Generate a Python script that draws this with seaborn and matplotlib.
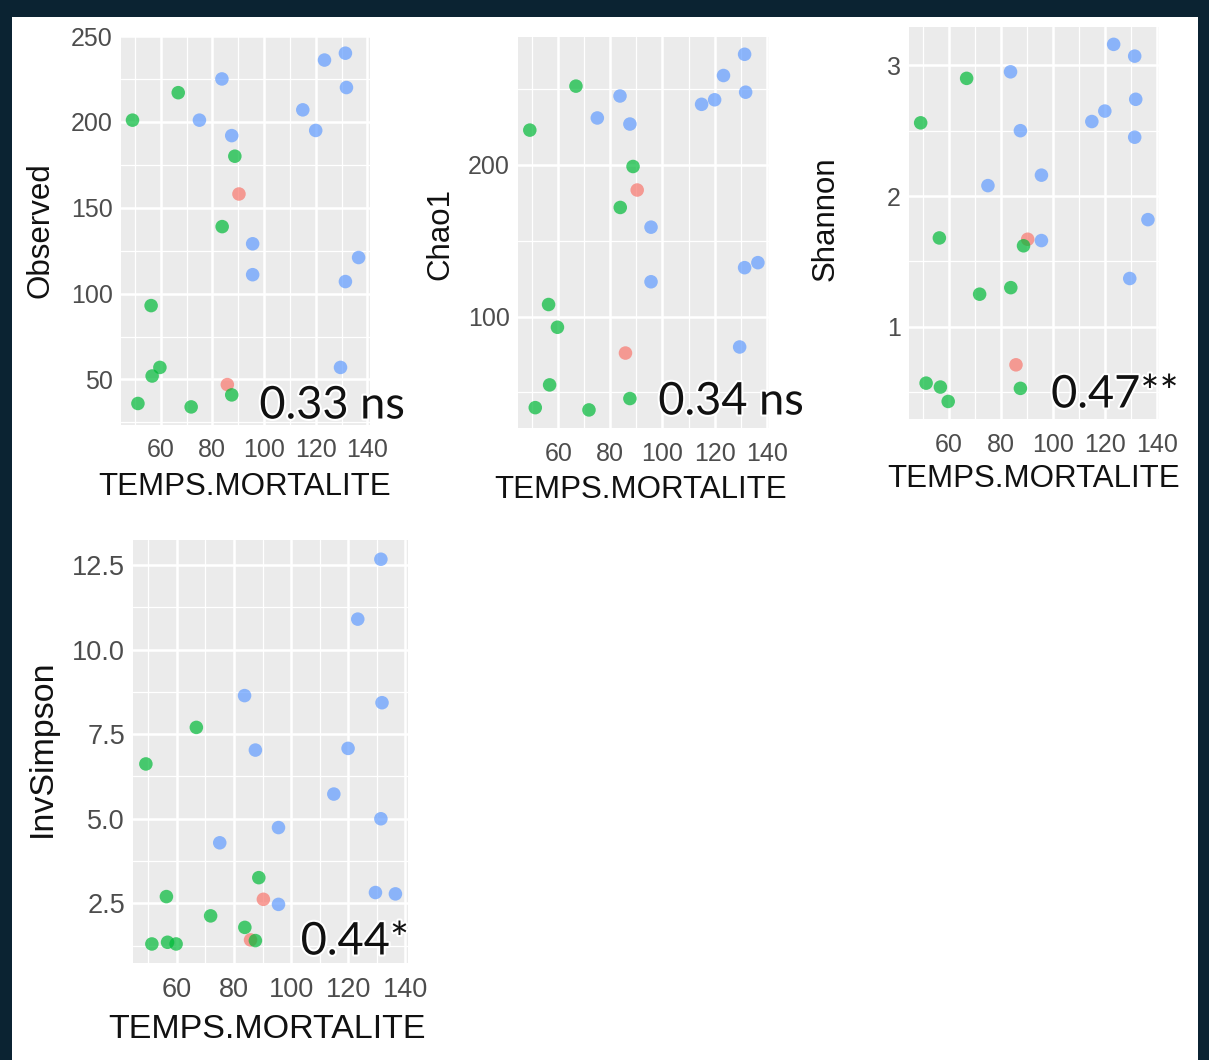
import matplotlib
matplotlib.use("Agg")
import matplotlib.pyplot as plt
import matplotlib.patheffects as pe
from matplotlib.patches import Rectangle
from matplotlib.ticker import FixedLocator, MultipleLocator
import pandas as pd
import seaborn as sns

W, H = 1209, 1060

# one row per sample: red group first, then green, then blue
groupe = ["R"] * 2 + ["G"] * 10 + ["B"] * 13
temps = [90.3, 85.8,
         49.1, 66.8, 88.7, 83.8, 56.3, 59.7, 56.7, 51.2, 71.8, 87.5,
         83.7, 75.0, 87.5, 115.0, 120.0, 123.4, 131.5, 131.9, 95.6, 95.6, 136.6, 131.5, 129.6]
observed = [158, 47,
            201, 217, 180, 139, 93, 57, 52, 36, 34, 41,
            225, 201, 192, 207, 195, 236, 240, 220, 129, 111, 121, 107, 57]
chao1 = [183.5, 76,
         223, 252, 199, 172, 108, 93, 55, 40, 38.5, 46,
         245.5, 231, 227, 240, 243, 259, 273, 248, 159, 123, 135.6, 132.3, 80]
shannon = [1.67, 0.71,
           2.56, 2.90, 1.62, 1.30, 1.68, 0.43, 0.54, 0.57, 1.25, 0.53,
           2.95, 2.08, 2.50, 2.57, 2.65, 3.16, 3.07, 2.74, 2.16, 1.66, 1.82, 2.45, 1.37]
invsimpson = [2.62, 1.42,
              6.62, 7.70, 3.26, 1.79, 2.70, 1.30, 1.35, 1.30, 2.13, 1.40,
              8.64, 4.29, 7.03, 5.73, 7.08, 10.9, 12.67, 8.43, 4.74, 2.47, 2.78, 5.0, 2.82]

x_ticks = [60, 80, 100, 120, 140]
obs_ticks = [50, 100, 150, 200, 250]
chao_ticks = [100, 200]
shannon_ticks = [1, 2, 3]
invs_ticks = [2.5, 5.0, 7.5, 10.0, 12.5]
invs_tick_labels = ["2.5", "5.0", "7.5", "10.0", "12.5"]
stats = ["0.33 ns", "0.34 ns", "0.47**", "0.44*"]

df = pd.DataFrame({"TEMPS.MORTALITE": temps, "groupe": groupe,
                   "Observed": observed, "Chao1": chao1,
                   "Shannon": shannon, "InvSimpson": invsimpson})
palette = {"R": "#F8766D", "G": "#00BA38", "B": "#619CFF"}

sns.set_theme(style="darkgrid", rc={"axes.facecolor": "#EBEBEB", "grid.color": "white"})
plt.rcParams["font.family"] = ["Liberation Sans", "DejaVu Sans"]

fig = plt.figure(figsize=(W / 100, H / 100), dpi=100, facecolor="#0b2332")
fig.patches.append(Rectangle((12 / W, 0), (1198 - 12) / W, 1 - 17 / H,
                             transform=fig.transFigure, facecolor="white",
                             edgecolor="none", zorder=-5))


def expand(v):
    lo, hi = min(v), max(v)
    d = (hi - lo) * 0.05
    return lo - d, hi + d


# pixel boxes (left, top, right, bottom) and text placement for each panel
panels = [
    dict(col="Observed", box=(121.2, 35.5, 369.9, 424.6), yt=obs_ticks, ytl=None,
         tick=18, title=22.5, xlab=(245, 487), ylab=(40, 230), stat=stats[0], spos=(332, 406)),
    dict(col="Chao1", box=(518.4, 36.5, 769.3, 427.7), yt=chao_ticks, ytl=None,
         tick=18, title=22.5, xlab=(641, 490), ylab=(440, 234), stat=stats[1], spos=(731, 402)),
    dict(col="Shannon", box=(909.3, 26.5, 1159.3, 419.3), yt=shannon_ticks, ytl=None,
         tick=18, title=22.5, xlab=(1034, 479), ylab=(826, 219), stat=stats[2], spos=(1115, 395)),
    dict(col="InvSimpson", box=(133.4, 540.0, 407.9, 963.2), yt=invs_ticks, ytl=invs_tick_labels,
         tick=19.5, title=24.5, xlab=(267, 1029), ylab=(42, 748), stat=stats[3],
         spos=(355, 942)),
]

for p in panels:
    l, t, r, b = p["box"]
    ax = fig.add_axes([l / W, 1 - b / H, (r - l) / W, (b - t) / H])
    sns.scatterplot(data=df, x="TEMPS.MORTALITE", y=p["col"], hue="groupe", palette=palette,
                    s=95, alpha=0.7, linewidth=0, legend=False, ax=ax)
    ax.set_xlim(*expand(temps))
    ax.set_ylim(*expand(df[p["col"]]))
    ax.xaxis.set_major_locator(FixedLocator(x_ticks))
    ax.xaxis.set_minor_locator(MultipleLocator(10, offset=0))
    ax.yaxis.set_major_locator(FixedLocator(p["yt"]))
    step = p["yt"][1] - p["yt"][0]
    ax.yaxis.set_minor_locator(MultipleLocator(step, offset=step / 2))
    if p["ytl"] is not None:
        ax.set_yticklabels(p["ytl"])
    ax.grid(which="major", color="white", linewidth=1.8)
    ax.grid(which="minor", color="white", linewidth=0.9)
    for s in ax.spines.values():
        s.set_visible(False)
    ax.tick_params(which="major", length=4, width=1.4, color="#333333",
                   labelcolor="#4D4D4D", labelsize=p["tick"])
    ax.tick_params(axis="x", pad=6)
    ax.tick_params(axis="y", pad=2)
    ax.tick_params(which="minor", length=0)

    ax.set_xlabel("TEMPS.MORTALITE", fontsize=p["title"], color="#111111")
    ax.set_ylabel(p["col"], fontsize=p["title"], color="#111111")
    ax.xaxis.set_label_coords((p["xlab"][0] - l) / (r - l), (b - p["xlab"][1]) / (b - t))
    ax.yaxis.set_label_coords((p["ylab"][0] - l) / (r - l), (b - p["ylab"][1]) / (b - t))
    ax.xaxis.label.set_va("center")
    ax.yaxis.label.set_va("center")

    fig.text(p["spos"][0] / W, 1 - p["spos"][1] / H, p["stat"], family="Lato",
             fontsize=32.5, color="#111111", ha="center", va="center", zorder=5,
             path_effects=[pe.withStroke(linewidth=3, foreground="white")])

fig.savefig("out.png", dpi=100, facecolor=fig.get_facecolor())
